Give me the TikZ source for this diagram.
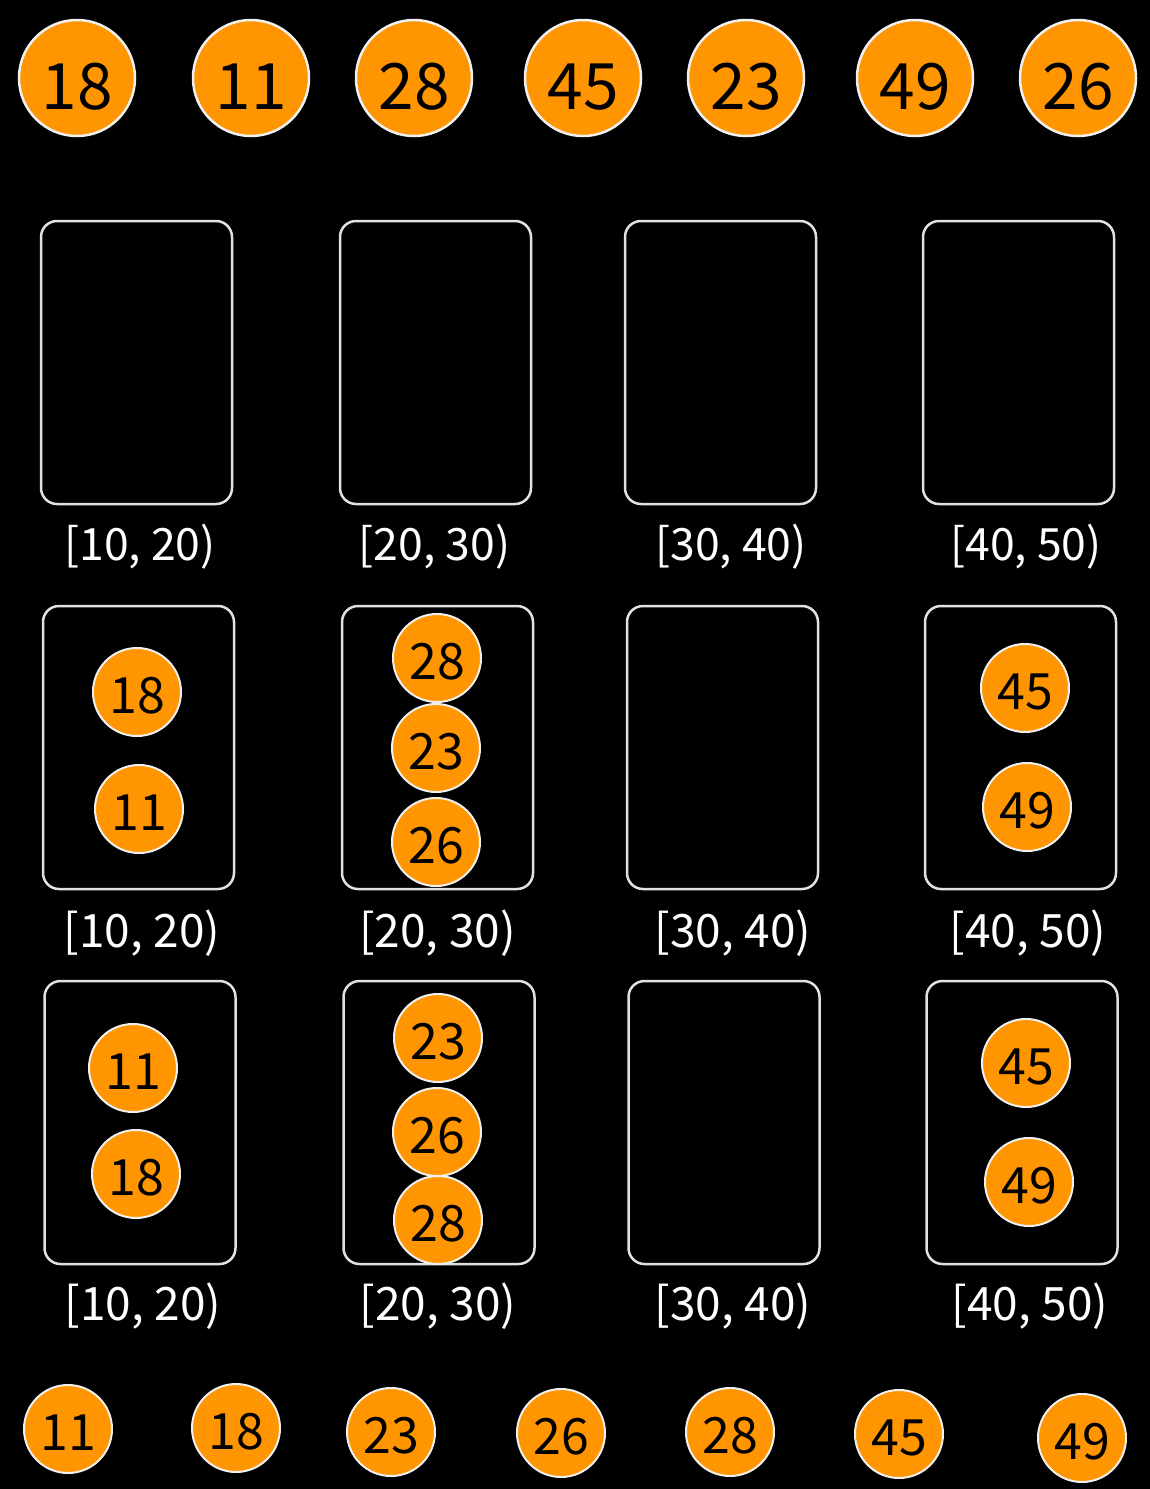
\documentclass[tikz,border=0pt]{standalone}
\usepackage{fontspec}
\setmainfont{Noto Sans CJK SC}
\definecolor{ballorange}{RGB}{255,149,0}
\definecolor{rim}{RGB}{240,240,240}
\definecolor{boxline}{RGB}{225,225,225}
\begin{document}
\begin{tikzpicture}[x=1pt,y=-1pt,
  bigball/.style={circle,fill=ballorange,draw=rim,line width=2.5pt,minimum size=116pt,inner sep=0pt,
    font=\fontsize{64}{64}\selectfont,text=black,text height=62pt,text depth=0pt},
  ball/.style={circle,fill=ballorange,draw=rim,line width=2pt,minimum size=88pt,inner sep=0pt,
    font=\fontsize{50}{50}\selectfont,text=black,text height=42pt,text depth=0pt},
  bucket/.style={rectangle,rounded corners=16pt,draw=boxline,line width=2.5pt,minimum width=191pt,
    minimum height=283pt,inner sep=0pt},
  rangelabel/.style={anchor=base,inner sep=0pt,text=white,font=\fontsize{44.5}{45}\selectfont},
  rangelabelb/.style={anchor=base,inner sep=0pt,text=white,font=\fontsize{46}{46}\selectfont}]
\fill[black] (0,0) rectangle (1150,1489);
\useasboundingbox (0,0) rectangle (1150,1489);
% input
\node[bigball] (t1) at (77,78) {18};
\node[bigball] (t2) at (251,78) {11};
\node[bigball] (t3) at (414,78) {28};
\node[bigball] (t4) at (583,78) {45};
\node[bigball] (t5) at (746,78) {23};
\node[bigball] (t6) at (915,78) {49};
\node[bigball] (t7) at (1078,78) {26};
% row 1 buckets
\node[bucket] (a1) at (136.5,362.5) {};
\node[bucket] (a2) at (435.5,362.5) {};
\node[bucket] (a3) at (720.5,362.5) {};
\node[bucket] (a4) at (1018.5,362.5) {};
\node[rangelabel] (la1) at (140,560) {[10, 20)};
\node[rangelabel] (la2) at (434.5,560) {[20, 30)};
\node[rangelabel] (la3) at (731,560) {[30, 40)};
\node[rangelabel] (la4) at (1026,560) {[40, 50)};
% row 2 buckets
\node[bucket] (b1) at (138.5,747.5) {};
\node[bucket] (b2) at (437.5,747.5) {};
\node[bucket] (b3) at (722.5,747.5) {};
\node[bucket] (b4) at (1020.5,747.5) {};
\node[rangelabelb] (lb1) at (142,947) {[10, 20)};
\node[rangelabelb] (lb2) at (437.5,947) {[20, 30)};
\node[rangelabelb] (lb3) at (733,947) {[30, 40)};
\node[rangelabelb] (lb4) at (1028,947) {[40, 50)};
\node[ball] (b1x) at (137,692) {18};
\node[ball] (b1y) at (139,809) {11};
\node[ball] (b2x) at (437,658) {28};
\node[ball] (b2y) at (436,748) {23};
\node[ball] (b2z) at (436,842) {26};
\node[ball] (b4x) at (1025,688) {45};
\node[ball] (b4y) at (1027,807) {49};
% row 3 buckets
\node[bucket] (c1) at (140,1122.5) {};
\node[bucket] (c2) at (439,1122.5) {};
\node[bucket] (c3) at (724,1122.5) {};
\node[bucket] (c4) at (1022,1122.5) {};
\node[rangelabelb] (lc1) at (143,1320) {[10, 20)};
\node[rangelabelb] (lc2) at (438,1320) {[20, 30)};
\node[rangelabelb] (lc3) at (733,1320) {[30, 40)};
\node[rangelabelb] (lc4) at (1030,1320) {[40, 50)};
\node[ball] (c1x) at (133,1068) {11};
\node[ball] (c1y) at (136,1174) {18};
\node[ball] (c2x) at (438,1038) {23};
\node[ball] (c2y) at (437,1132) {26};
\node[ball] (c2z) at (438,1220) {28};
\node[ball] (c4x) at (1026,1063) {45};
\node[ball] (c4y) at (1029,1182) {49};
% output
\node[ball] (o1) at (68,1429) {11};
\node[ball] (o2) at (236,1428) {18};
\node[ball] (o3) at (391,1432) {23};
\node[ball] (o4) at (561,1433) {26};
\node[ball] (o5) at (730,1432) {28};
\node[ball] (o6) at (899,1434) {45};
\node[ball] (o7) at (1082,1438) {49};
\end{tikzpicture}
\end{document}
